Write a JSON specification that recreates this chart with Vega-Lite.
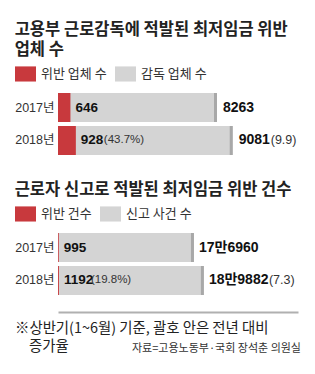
{
  "$schema": "https://vega.github.io/schema/vega-lite/v6.json",
  "padding": {"left": 14, "top": 21, "right": 4, "bottom": 0},
  "background": "white",
  "spacing": 9,
  "columns": 1,
  "config": {
    "font": "Noto Sans CJK KR",
    "view": {"stroke": null},
    "title": {"anchor": "start", "fontSize": 16.5, "fontWeight": "bold", "color": "#222222", "lineHeight": 20, "offset": 5, "font": "Noto Sans CJK KR"},
    "legend": {
      "orient": "none", "legendX": -43, "legendY": -30, "direction": "horizontal", "title": null,
      "symbolType": "M-1,-0.72H1V0.72H-1Z", "symbolSize": 441, "symbolStrokeWidth": 0, "symbolOpacity": 1,
      "labelFontSize": 13, "labelColor": "#333333", "labelOffset": 5, "columnPadding": 8, "padding": 0,
      "labelFont": "Noto Sans CJK KR"
    },
    "axisY": {"title": null, "domain": false, "ticks": false, "labelFontSize": 12.5, "labelColor": "#333333", "labelPadding": 4, "labelFont": "Liberation Sans, Noto Sans CJK KR"}
  },
  "datasets": {
    "firms": [
      {"year": "2017년", "violations": 646, "vPct": "", "total": 8263, "totalLabel": "8263", "tPct": ""},
      {"year": "2018년", "violations": 928, "vPct": "(43.7%)", "total": 9081, "totalLabel": "9081", "tPct": "(9.9)"}
    ],
    "reports": [
      {"year": "2017년", "violations": 995, "vPct": "", "total": 176960, "totalLabel": "17만6960", "tPct": ""},
      {"year": "2018년", "violations": 1192, "vPct": "(19.8%)", "total": 189882, "totalLabel": "18만9882", "tPct": "(7.3)"}
    ],
    "note1": [{"text": "※상반기(1~6월) 기준, 괄호 안은 전년 대비"}],
    "note2": [{"text": "증가율"}],
    "source": [
      {"text": "자료=고용노동부·국회 장석춘 의원실"}
    ]
  },
  "resolve": {"scale": {"color": "independent", "x": "independent"}, "legend": {"color": "independent"}},
  "concat": [
    {
      "title": {"text": ["고용부 근로감독에 적발된 최저임금 위반", "업체 수"]},
      "width": 240, "height": 62,
      "data": {"name": "firms"},
      "encoding": {
        "y": {"field": "year", "type": "nominal", "scale": {"paddingInner": 0.12, "paddingOuter": 0}}
      },
      "layer": [
        {"mark": {"type": "bar"}, "encoding": {
          "x": {"field": "total", "type": "quantitative", "scale": {"domain": [0, 12474], "nice": false},
            "axis": {"orient": "bottom", "domain": true, "domainColor": "#ffffff", "domainWidth": 2, "labels": false, "ticks": false, "grid": false, "title": null, "offset": 17}},
          "color": {"datum": "감독 업체 수", "scale": {"domain": ["위반 업체 수", "감독 업체 수"], "range": ["#c8393d", "#d4d4d4"]}}
        }},
        {"mark": {"type": "tick", "color": "#a8a8a8", "thickness": 3, "size": 29, "xOffset": -1.5, "opacity": 1}, "encoding": {
          "x": {"field": "total", "type": "quantitative"}
        }},
        {"mark": {"type": "bar"}, "encoding": {
          "x": {"field": "violations", "type": "quantitative"},
          "color": {"datum": "위반 업체 수"}
        }},
        {"mark": {"type": "text", "align": "left", "baseline": "middle", "dx": 5, "fontSize": 13.5, "fontWeight": "bold", "color": "#111111", "font": "Liberation Sans"}, "encoding": {
          "x": {"field": "violations", "type": "quantitative"},
          "text": {"field": "violations", "type": "quantitative", "format": "d"}
        }},
        {"mark": {"type": "text", "align": "left", "baseline": "middle", "dx": 28, "fontSize": 11.5, "color": "#333333", "font": "Liberation Sans"}, "encoding": {
          "x": {"field": "violations", "type": "quantitative"},
          "text": {"field": "vPct"}
        }},
        {"mark": {"type": "text", "align": "left", "baseline": "middle", "dx": 6, "fontSize": 14, "fontWeight": "bold", "color": "#111111", "font": "Liberation Sans, Noto Sans CJK KR"}, "encoding": {
          "x": {"field": "total", "type": "quantitative"},
          "text": {"field": "totalLabel"}
        }},
        {"mark": {"type": "text", "align": "left", "baseline": "middle", "dx": 38, "fontSize": 12.5, "color": "#333333", "font": "Liberation Sans"}, "encoding": {
          "x": {"field": "total", "type": "quantitative"},
          "text": {"field": "tPct"}
        }}
      ]
    },
    {
      "title": {"text": "근로자 신고로 적발된 최저임금 위반 건수"},
      "width": 240, "height": 62,
      "data": {"name": "reports"},
      "encoding": {
        "y": {"field": "year", "type": "nominal", "scale": {"paddingInner": 0.12, "paddingOuter": 0}}
      },
      "layer": [
        {"mark": {"type": "bar"}, "encoding": {
          "x": {"field": "total", "type": "quantitative", "scale": {"domain": [0, 312400], "nice": false},
            "axis": {"orient": "bottom", "domain": true, "domainColor": "#b0b0b0", "domainWidth": 2, "labels": false, "ticks": false, "grid": false, "title": null, "offset": 17}},
          "color": {"datum": "신고 사건 수", "scale": {"domain": ["위반 건수", "신고 사건 수"], "range": ["#c8393d", "#d4d4d4"]}}
        }},
        {"mark": {"type": "tick", "color": "#a8a8a8", "thickness": 3, "size": 29, "xOffset": -1.5, "opacity": 1}, "encoding": {
          "x": {"field": "total", "type": "quantitative"}
        }},
        {"mark": {"type": "bar"}, "encoding": {
          "x": {"field": "violations", "type": "quantitative"},
          "color": {"datum": "위반 건수"}
        }},
        {"mark": {"type": "text", "align": "left", "baseline": "middle", "dx": 5, "fontSize": 13.5, "fontWeight": "bold", "color": "#111111", "font": "Liberation Sans"}, "encoding": {
          "x": {"field": "violations", "type": "quantitative"},
          "text": {"field": "violations", "type": "quantitative", "format": "d"}
        }},
        {"mark": {"type": "text", "align": "left", "baseline": "middle", "dx": 32, "fontSize": 11.5, "color": "#333333", "font": "Liberation Sans"}, "encoding": {
          "x": {"field": "violations", "type": "quantitative"},
          "text": {"field": "vPct"}
        }},
        {"mark": {"type": "text", "align": "left", "baseline": "middle", "dx": 5, "fontSize": 14, "fontWeight": "bold", "color": "#111111", "font": "Liberation Sans, Noto Sans CJK KR"}, "encoding": {
          "x": {"field": "total", "type": "quantitative"},
          "text": {"field": "totalLabel"}
        }},
        {"mark": {"type": "text", "align": "left", "baseline": "middle", "dx": 65, "fontSize": 12.5, "color": "#333333", "font": "Liberation Sans"}, "encoding": {
          "x": {"field": "total", "type": "quantitative"},
          "text": {"field": "tPct"}
        }}
      ]
    },
    {
      "width": 243, "height": 44,
      "layer": [
        {"data": {"name": "note1"}, "mark": {"type": "text", "align": "left", "baseline": "alphabetic", "dx": -43, "fontSize": 14.4, "color": "#222222", "font": "Noto Sans CJK KR"}, "encoding": {
          "x": {"datum": 0, "type": "quantitative", "axis": null, "scale": {"domain": [0, 243], "nice": false, "zero": false}},
          "y": {"datum": 38, "type": "quantitative", "axis": null, "scale": {"domain": [0, 44], "nice": false, "zero": false}},
          "text": {"field": "text"}
        }},
        {"data": {"name": "note2"}, "mark": {"type": "text", "align": "left", "baseline": "alphabetic", "dx": -29, "fontSize": 14.4, "color": "#222222", "font": "Noto Sans CJK KR"}, "encoding": {
          "x": {"datum": 0, "type": "quantitative"},
          "y": {"datum": 20, "type": "quantitative"},
          "text": {"field": "text"}
        }},
        {"data": {"name": "source"}, "mark": {"type": "text", "align": "right", "baseline": "alphabetic", "fontSize": 11, "color": "#333333", "font": "Noto Sans CJK KR"}, "encoding": {
          "x": {"datum": 243, "type": "quantitative"},
          "y": {"datum": 19, "type": "quantitative"},
          "text": {"field": "text"}
        }}
      ]
    }
  ]
}
